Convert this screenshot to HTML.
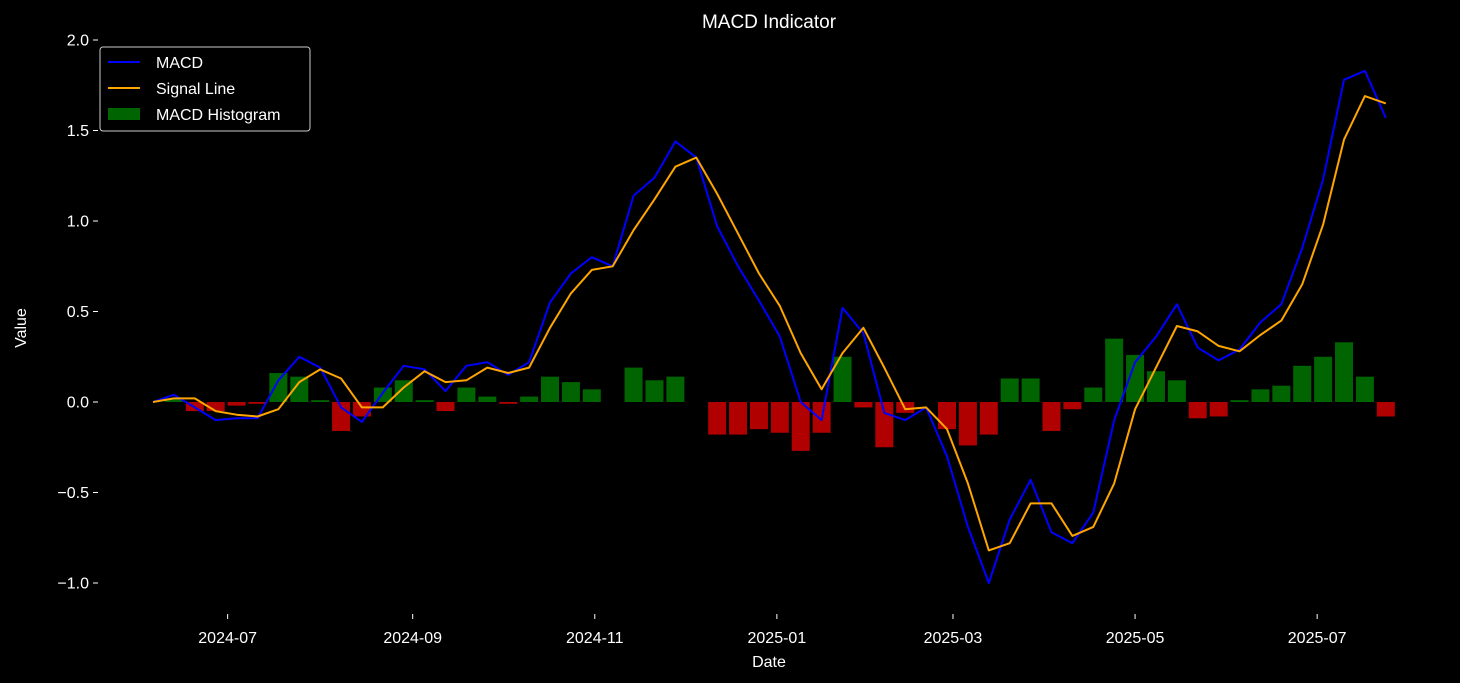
<!DOCTYPE html>
<html><head><meta charset="utf-8"><style>
html,body{margin:0;padding:0;background:#000;}
svg{display:block;font-family:"Liberation Sans","DejaVu Sans",sans-serif;}
</style></head><body>
<svg id="chart" width="1460" height="683" viewBox="0 0 1460 683">
<rect width="1460" height="683" fill="#000"/>
<text x="769" y="28" fill="#fff" font-size="19" text-anchor="middle">MACD Indicator</text>
<text x="769" y="667" fill="#fff" font-size="16" text-anchor="middle">Date</text>
<text x="26" y="328" fill="#fff" font-size="16" text-anchor="middle" transform="rotate(-90 26 328)">Value</text>
<g id="hist"></g>
<g id="lines"></g>
<g id="yaxis"></g>
<g id="xaxis"></g>
<g>
<rect x="100" y="47" width="210" height="84" rx="3" fill="#000" stroke="#ccc" stroke-width="1"/>
<line x1="108" y1="62" x2="140" y2="62" stroke="#0000ff" stroke-width="2"/>
<text x="156" y="68" fill="#fff" font-size="16">MACD</text>
<line x1="108" y1="88" x2="140" y2="88" stroke="#ffa500" stroke-width="2"/>
<text x="156" y="94" fill="#fff" font-size="16">Signal Line</text>
<rect x="108" y="108" width="32" height="12" fill="#006400"/>
<text x="156" y="120" fill="#fff" font-size="16">MACD Histogram</text>
</g>
</svg>
<script>
const macdValues = [0.00,0.04,-0.03,-0.10,-0.09,-0.09,0.12,0.25,0.19,-0.03,-0.11,0.05,0.20,0.18,0.06,0.20,0.22,0.15,0.22,0.55,0.71,0.80,0.75,1.14,1.24,1.44,1.35,0.97,0.75,0.56,0.36,0.00,-0.10,0.52,0.38,-0.06,-0.10,-0.03,-0.30,-0.69,-1.00,-0.65,-0.43,-0.72,-0.78,-0.61,-0.10,0.22,0.36,0.54,0.30,0.23,0.29,0.44,0.54,0.85,1.23,1.78,1.83,1.57];
const signalValues = [0.00,0.02,0.02,-0.05,-0.07,-0.08,-0.04,0.11,0.18,0.13,-0.03,-0.03,0.08,0.17,0.11,0.12,0.19,0.16,0.19,0.41,0.60,0.73,0.75,0.95,1.12,1.30,1.35,1.15,0.93,0.71,0.53,0.27,0.07,0.27,0.41,0.19,-0.04,-0.03,-0.15,-0.45,-0.82,-0.78,-0.56,-0.56,-0.74,-0.69,-0.45,-0.04,0.19,0.42,0.39,0.31,0.28,0.37,0.45,0.65,0.98,1.45,1.69,1.65];
const dayOffsets = macdValues.map((_, i) => i * 7);
const yTicks = [2.0,1.5,1.0,0.5,0.0,-0.5,-1.0];
const xTickLabels = ["2024-07","2024-09","2024-11","2025-01","2025-03","2025-05","2025-07"];
const xTickDays = [25,87,148,209,268,329,390];

const NS = "http://www.w3.org/2000/svg";
const xS = d => 153 + d * 2.985;
const yS = v => 402 - v * 181;
const hist = document.getElementById('hist');
const lines = document.getElementById('lines');
const yax = document.getElementById('yaxis');
const xax = document.getElementById('xaxis');

macdValues.forEach((m, i) => {
  const h = m - signalValues[i];
  const r = document.createElementNS(NS, 'rect');
  const x = xS(dayOffsets[i]);
  r.setAttribute('x', x - 9);
  r.setAttribute('width', 18);
  r.setAttribute('y', Math.min(yS(h), yS(0)));
  r.setAttribute('height', Math.abs(yS(h) - yS(0)));
  r.setAttribute('fill', h >= 0 ? '#006400' : '#b00000');
  
  
  hist.appendChild(r);
});

function addLine(vals, color, name) {
  const p = document.createElementNS(NS, 'polyline');
  p.setAttribute('points', vals.map((v, i) => xS(dayOffsets[i]).toFixed(1) + ',' + yS(v).toFixed(1)).join(' '));
  p.setAttribute('fill', 'none');
  p.setAttribute('stroke', color);
  p.setAttribute('stroke-width', 2);
  p.setAttribute('stroke-linejoin', 'round');
  
  
  lines.appendChild(p);
}
addLine(macdValues, '#0000ff', 'macd-line');
addLine(signalValues, '#ffa500', 'signal-line');

yTicks.forEach(v => {
  const t = document.createElementNS(NS, 'line');
  t.setAttribute('x1', 93); t.setAttribute('x2', 98);
  t.setAttribute('y1', yS(v)); t.setAttribute('y2', yS(v));
  t.setAttribute('stroke', '#fff');
  
  
  yax.appendChild(t);
  const tx = document.createElementNS(NS, 'text');
  tx.setAttribute('x', 89); tx.setAttribute('y', yS(v) + 5.5);
  tx.setAttribute('fill', '#fff'); tx.setAttribute('font-size', '16');
  tx.setAttribute('text-anchor', 'end');
  tx.textContent = v.toFixed(1).replace('-', '\u2212');
  
  
  yax.appendChild(tx);
});

xTickLabels.forEach((lab, i) => {
  const x = xS(xTickDays[i]);
  const t = document.createElementNS(NS, 'line');
  t.setAttribute('x1', x); t.setAttribute('x2', x);
  t.setAttribute('y1', 614); t.setAttribute('y2', 619);
  t.setAttribute('stroke', '#fff');
  
  
  xax.appendChild(t);
  const tx = document.createElementNS(NS, 'text');
  tx.setAttribute('x', x); tx.setAttribute('y', 643);
  tx.setAttribute('fill', '#fff'); tx.setAttribute('font-size', '16');
  tx.setAttribute('text-anchor', 'middle');
  tx.textContent = lab;
  
  
  xax.appendChild(tx);
});
</script>
</body></html>
